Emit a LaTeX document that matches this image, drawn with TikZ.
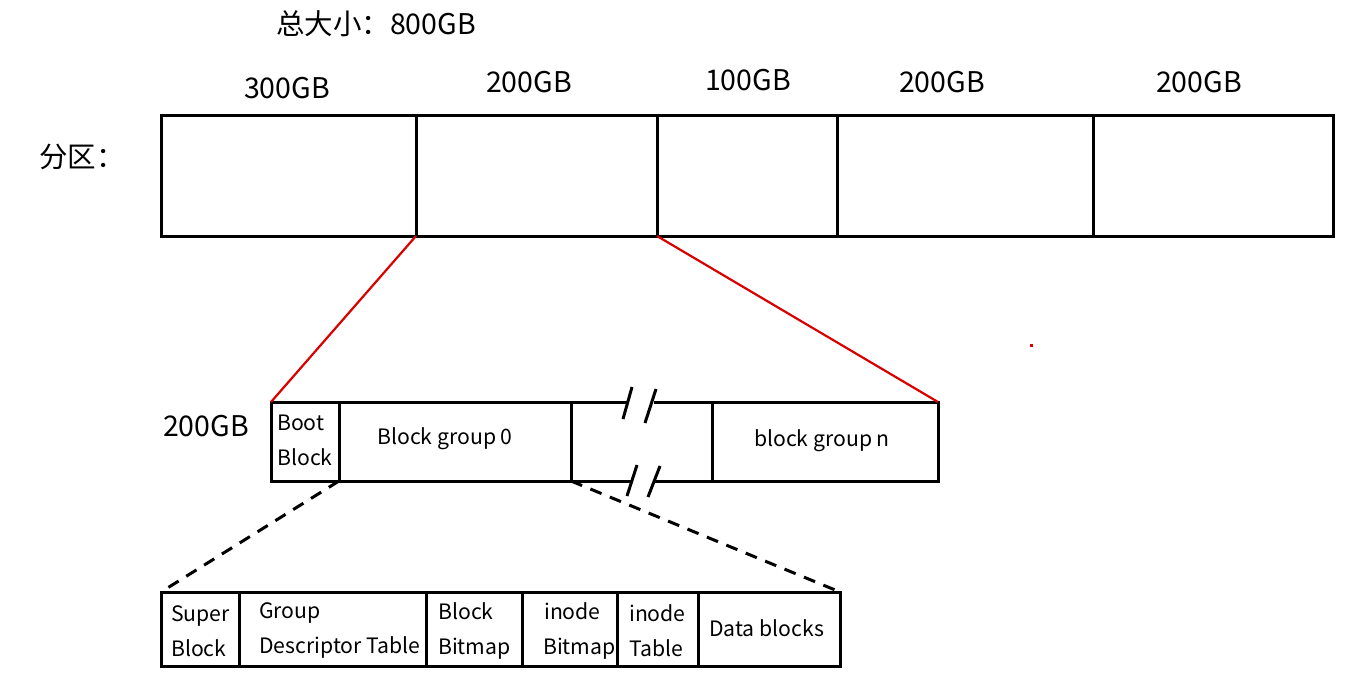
\documentclass[tikz,border=0pt]{standalone}
\usepackage{fontspec}
\setmainfont{Noto Sans CJK SC}
\begin{document}
\begin{tikzpicture}[x=1pt,y=-1pt,
  box/.style={draw,line width=3pt,inner sep=0,outer sep=0},
  big/.style={font=\fontsize{28.5}{30}\selectfont,inner sep=0},
  small/.style={font=\fontsize{21.2}{35}\selectfont,inner sep=0,align=left},
  zoomline/.style={draw=red!85!black,line width=2.2pt},
  dashline/.style={line width=3pt,dash pattern=on 12pt off 9pt},
  brk/.style={line width=3pt}]
\useasboundingbox (0,0) rectangle (1356,680);
% top partitions
\node[box,minimum width=255,minimum height=121] (p1) at (288.5,175.5) {};
\node[box,minimum width=241,minimum height=121] (p2) at (536.5,175.5) {};
\node[box,minimum width=180,minimum height=121] (p3) at (747,175.5) {};
\node[box,minimum width=256,minimum height=121] (p4) at (965,175.5) {};
\node[box,minimum width=240,minimum height=121] (p5) at (1213,175.5) {};
\node[big] (total) at (376,24) {总大小：800GB};
\node[big] (l1) at (287,88) {300GB};
\node[big] (l2) at (529,82) {200GB};
\node[big] (l3) at (748,80) {100GB};
\node[big] (l4) at (942,82) {200GB};
\node[big] (l5) at (1199,82) {200GB};
\node[big,anchor=west] (fq) at (39,157) {分区：};
% middle row
\node[big] (l200) at (206,426) {200GB};
\node[box,minimum width=68,minimum height=79] (boot) at (305,441.5) {};
\node[box,minimum width=232,minimum height=79] (bg0) at (455,441.5) {};
\node[box,minimum width=226,minimum height=79] (bgn) at (825,441.5) {};
\node[small,anchor=west] (boott) at (277,440) {Boot\\Block};
\node[small] (bg0t) at (445,439) {Block group 0};
\node[small] (bgnt) at (822,441) {block group n};
\coordinate (t1) at (627,402);
\coordinate (t2) at (654,402);
\coordinate (b1) at (632,481);
\coordinate (b2) at (655,481);
\draw[line width=3pt] (bg0.north east) -- (t1) (t2) -- (bgn.north west);
\draw[line width=3pt] (bg0.south east) -- (b1) (b2) -- (bgn.south west);
\coordinate (k1a) at (632,387); \coordinate (k1b) at (623,419);
\coordinate (k2a) at (656,389); \coordinate (k2b) at (645,423);
\coordinate (k3a) at (637,465); \coordinate (k3b) at (627,496);
\coordinate (k4a) at (660,466); \coordinate (k4b) at (648,497);
\draw[brk] (k1a) -- (k1b) (k2a) -- (k2b) (k3a) -- (k3b) (k4a) -- (k4b);
% red zoom lines
\draw[zoomline] (p2.south west) -- (boot.north west);
\draw[zoomline] (p3.south west) -- (bgn.north east);
\fill[red!85!black] (1029.5,343.5) rectangle (1032.5,347);
% bottom row
\node[box,minimum width=78,minimum height=74] (sb) at (200,629) {};
\node[box,minimum width=187,minimum height=74] (gdt) at (332.5,629) {};
\node[box,minimum width=96,minimum height=74] (bbm) at (474,629) {};
\node[box,minimum width=95,minimum height=74] (ibm) at (569.5,629) {};
\node[box,minimum width=81,minimum height=74] (it) at (657.5,629) {};
\node[box,minimum width=142,minimum height=74] (db) at (769,629) {};
\draw[dashline] (boot.south east) -- (sb.north west);
\draw[dashline] (bg0.south east) -- (db.north east);
\node[small,anchor=west] (sbt) at (171,631) {Super\\Block};
\node[small,anchor=west] (gdtt) at (259,631) {Group\\Descriptor Table};
\node[small,anchor=west] (bbmt) at (438,631) {Block\\Bitmap};
\node[small,anchor=west] (ibmt) at (543,631) {\hspace{1pt}inode\\Bitmap};
\node[small,anchor=west] (itt) at (629,631) {inode\\Table};
\node[small,anchor=west] (dbt) at (709,628) {Data blocks};
\end{tikzpicture}
\end{document}
